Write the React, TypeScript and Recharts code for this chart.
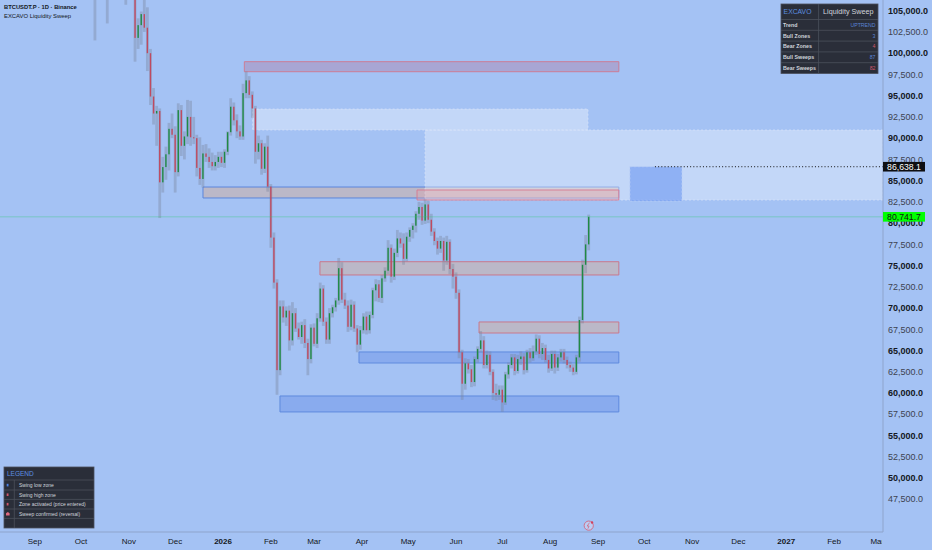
import React from 'react';
import { ComposedChart, Bar, XAxis, YAxis, ReferenceArea, ReferenceLine, ReferenceDot } from 'recharts';

const W = 932;
const H = 550;
const BG = '#a4c2f4';
const AXIS = '#8ea4cc';
const FONT = '"Liberation Sans", Arial, Helvetica, sans-serif';

// time axis: days counted from 2025-09-01, one candle = 2 days
const firstCandleDay = 39;
const candleStepDays = 2;
const firstOpen = 121500;

const closes = [
  112500, 115100, 113000, 108200, 107200, 110500, 108000, 111000, 114400, 112900,
  108300, 110100, 106500, 101800, 103300, 104600, 103000, 100000, 94900, 92900,
  93200, 84800, 86600, 88100, 91100, 90400, 86000, 93300, 89100, 90200,
  92500, 90100, 90000, 86500, 85200, 88200, 87800, 87200, 86700, 87200,
  87800, 87100, 88400, 90700, 93700, 92100, 90800, 90200, 95300, 96800,
  95100, 93500, 88400, 89400, 86400, 89000, 84300, 78300, 73000, 62700,
  70200, 68900, 69700, 66200, 69400, 67600, 66600, 68000, 65900, 64000,
  67700, 65800, 68800, 72300, 68400, 66300, 69400, 70100, 70900, 74700,
  71000, 70300, 67800, 70400, 67600, 65700, 67400, 69000, 67400, 69200,
  72100, 72800, 71200, 73500, 74400, 77100, 73700, 76500, 78200, 77600,
  75800, 78400, 79200, 79700, 81100, 81900, 80300, 82200, 80400, 79000,
  77900, 77000, 77900, 75600, 77800, 74600, 73700, 71800, 64800, 61100,
  63500, 62800, 61300, 64000, 65200, 66200, 63300, 64500, 62500, 60000,
  59800, 60400, 58900, 62200, 63300, 64200, 62600, 64000, 64300, 62700,
  64800, 64100, 64900, 66400, 64600, 65300, 63900, 62900, 64600, 63000,
  64200, 64800, 63900, 63300, 63000, 62500, 64200, 68600, 75100, 77500,
  80741.7,
];

const highs = [
  122500, 115800, 116000, 113600, 109000, 111700, 114000, 112000, 114600, 116400,
  113600, 111000, 111200, 107000, 104100, 104900, 106800, 105400, 100500, 95900,
  93800, 93500, 87800, 89000, 91800, 92900, 91400, 94100, 93900, 90800,
  94500, 94400, 92500, 90400, 90100, 89200, 89300, 88800, 88300, 88000,
  88400, 88400, 88700, 90800, 94700, 94200, 92800, 91500, 96400, 97850,
  97300, 95500, 93800, 90300, 89800, 89400, 90300, 84600, 78900, 73400,
  70900, 70900, 70200, 70300, 70700, 70000, 68300, 68400, 68700, 66400,
  68100, 68200, 69400, 73000, 72700, 68900, 70000, 70400, 71200, 75900,
  75400, 71800, 70900, 71000, 70800, 68000, 67900, 69400, 69600, 69600,
  72400, 73400, 73300, 73900, 74800, 78000, 77500, 77000, 79200, 78900,
  78800, 78900, 79500, 80000, 81400, 82500, 82400, 82800, 82600, 81100,
  79400, 78300, 78500, 78300, 78500, 78100, 75200, 74200, 72200, 65100,
  64100, 64000, 63300, 64300, 65500, 67300, 66700, 65000, 64900, 62800,
  61100, 60900, 60900, 62500, 63600, 64600, 64600, 64500, 64900, 64700,
  65100, 65300, 65600, 66900, 66800, 65900, 65700, 64500, 65000, 65000,
  64600, 65200, 65200, 64300, 63700, 63400, 64500, 69000, 75700, 78600,
  81000,
];

const lows = [
  101500, 109700, 110000, 107500, 103500, 106300, 106700, 107500, 110800, 112000,
  105700, 108000, 106400, 99000, 100500, 101000, 102500, 97900, 93900, 91600,
  89100, 80600, 83600, 85100, 86200, 90000, 83600, 85500, 87900, 87500,
  89300, 89100, 89300, 85500, 84500, 84200, 87200, 86500, 86200, 86200,
  86500, 86600, 86500, 88000, 90300, 91500, 90000, 89800, 89800, 94700,
  94700, 92400, 87000, 87500, 85700, 85900, 83700, 77100, 72300, 59800,
  62100, 68300, 67900, 65000, 65600, 67200, 66300, 65800, 65300, 62100,
  63500, 65500, 65300, 68400, 67900, 65800, 65800, 68900, 69600, 70400,
  70600, 69900, 67200, 67400, 67200, 64800, 65100, 67000, 66900, 67000,
  68800, 70800, 70700, 70600, 73100, 74000, 73000, 73300, 76000, 77100,
  75100, 75500, 77800, 78200, 78900, 80400, 79800, 79900, 80000, 78500,
  77400, 76300, 76500, 74400, 75100, 74000, 72300, 71100, 64100, 59200,
  60400, 62300, 60700, 60800, 63600, 64800, 62900, 62900, 62100, 59200,
  59100, 59200, 57800, 58600, 61700, 62900, 62100, 62300, 63300, 62200,
  62400, 63600, 63800, 64500, 64100, 63900, 63600, 62400, 62600, 62300,
  62600, 63700, 63500, 62900, 62500, 62100, 62200, 63700, 68200, 74100,
  76800,
];

const monthTickDays = [0, 30, 61, 91, 122, 153, 181, 212, 242, 273, 303, 334, 365, 395, 426, 456, 487, 518, 546];
const monthTickLabels = ['Sep', 'Oct', 'Nov', 'Dec', '2026', 'Feb', 'Mar', 'Apr', 'May', 'Jun', 'Jul', 'Aug', 'Sep', 'Oct', 'Nov', 'Dec', '2027', 'Feb', 'Mar'];
const yearLabels = ['2026', '2027'];

const priceTicks = [
  47500, 50000, 52500, 55000, 57500, 60000, 62500, 65000, 67500, 70000, 72500, 75000,
  77500, 80000, 82500, 85000, 87500, 90000, 92500, 95000, 97500, 100000, 102500, 105000,
];

// zones (from/to in days since 2025-09-01, prices)
const freshBearZones = [{ from: 135.8, to: 378.5, low: 97820, high: 99000 }];
const activatedBearZones = [
  { from: 184.8, to: 378.5, low: 73900, high: 75460 },
  { from: 287.9, to: 378.5, low: 67070, high: 68370 },
];
const activatedBullZones = [{ from: 109.0, to: 378.5, low: 82960, high: 84250 }];
const bullZones = [
  { from: 210.1, to: 378.5, low: 63540, high: 64840 },
  { from: 158.9, to: 378.5, low: 57780, high: 59660 },
];
const sweepBands = [
  { from: 141.2, to: 358.5, low: 90960, high: 93430 },
  { from: 252.9, to: 549.7, low: 82720, high: 90960 },
];
const sweptBearZones = [{ from: 247.7, to: 378.5, low: 82720, high: 83900 }];
const projectionBox = [{ from: 385.7, to: 419.4, low: 82600, high: 86638.1 }];
const targetLevel = { from: 401.9, to: 549.7, price: 86638.1, label: '86,638.1' };
const lastPriceLabel = '80,741.7';
const sweepMarkerPrice = 44400;

const tableLabels = ['Trend', 'Bull Zones', 'Bear Zones', 'Bull Sweeps', 'Bear Sweeps'];
const tableValues = ['UPTREND', '3', '4', '87', '82'];
const tableValueColors = ['#5b84d6', '#5b84d6', '#d0566b', '#5b84d6', '#d0566b'];
const legendLabels = ['Swing low zone', 'Swing high zone', 'Zone activated (price entered)', 'Sweep confirmed (reversal)'];

const rows = closes.map((c, i) => ({
  day: firstCandleDay + i * candleStepDays,
  open: i === 0 ? firstOpen : closes[i - 1],
  high: highs[i],
  low: lows[i],
  close: c,
  range: [lows[i], highs[i]],
}));
const lastDay = rows[rows.length - 1].day;
const lastClose = closes[closes.length - 1];
const PRICE_DOMAIN: [number, number] = [43652, 106259];

const Candle = (props: any) => {
  const { x, y, width, height, payload } = props;
  if (x == null || y == null || !payload) return null;
  const top = Math.min(y, y + height);
  const h = Math.abs(height);
  const span = payload.high - payload.low || 1;
  const k = h / span;
  const bodyTop = top + (payload.high - Math.max(payload.open, payload.close)) * k;
  const bodyH = Math.max(1, Math.abs(payload.open - payload.close) * k);
  const cx = x + width / 2;
  const up = payload.close >= payload.open;
  return (
    <g>
      <rect x={cx - 1.4} y={top} width={2.8} height={h} fill="rgba(120,132,156,0.38)" />
      <rect x={cx - 0.7} y={bodyTop} width={1.4} height={bodyH} fill={up ? '#1f8a45' : '#bf4a60'} />
    </g>
  );
};

const XTick = (props: any) => {
  const { x, payload, index } = props;
  const i = monthTickDays.indexOf(payload.value);
  const label = i >= 0 ? monthTickLabels[i] : '';
  const bold = yearLabels.includes(label);
  const id = `xclip${index}`;
  return (
    <g>
      <defs>
        <clipPath id={id}>
          <rect x={0} y={532} width={882} height={18} />
        </clipPath>
      </defs>
      <text
        x={x}
        y={541}
        dy="0.35em"
        textAnchor="middle"
        fontFamily={FONT}
        fontSize={8}
        fontWeight={bold ? 700 : 400}
        fill="#131722"
        clipPath={`url(#${id})`}
      >
        {label}
      </text>
    </g>
  );
};

const YTick = (props: any) => {
  const { y, payload } = props;
  const v = payload.value as number;
  const bold = v % 5000 === 0;
  const txt = v.toLocaleString('en-US', { minimumFractionDigits: 1, maximumFractionDigits: 1 });
  return (
    <text
      x={888}
      y={y}
      dy="0.35em"
      textAnchor="start"
      fontFamily={FONT}
      fontSize={9}
      fontWeight={bold ? 700 : 400}
      fill={bold ? '#131722' : '#3d4250'}
    >
      {txt}
    </text>
  );
};

// price tags drawn as ticks of an extra price axis so they sit above the axis labels
const TagTick = (props: any) => {
  const { y, payload } = props;
  const v = Number(payload.value);
  const isLast = Math.abs(v - lastClose) < 1;
  const text = isLast ? lastPriceLabel : targetLevel.label;
  const bg = isLast ? '#00ff00' : '#0e0f12';
  const color = isLast ? '#111111' : '#ffffff';
  return (
    <g>
      <rect x={883} y={y - 4.8} width={42} height={9.6} fill={bg} />
      <text x={904} y={y} dy="0.35em" textAnchor="middle" fontFamily={FONT} fontSize={8.7} fill={color}>
        {text}
      </text>
    </g>
  );
};

const SweepIcon = (props: any) => {
  const { cx, cy } = props;
  if (cx == null || cy == null) return null;
  return (
    <g>
      <circle cx={cx} cy={cy} r={4.6} fill="rgba(235,225,240,0.35)" stroke="#d3677f" strokeWidth={0.9} />
      <path d={`M ${cx + 0.8} ${cy - 3} L ${cx - 1.6} ${cy + 0.4} L ${cx + 0.3} ${cy + 0.4} L ${cx - 0.8} ${cy + 3}`} fill="none" stroke="#d3677f" strokeWidth={0.8} />
      <circle cx={cx + 3.3} cy={cy - 3.1} r={1.2} fill="#d3405c" />
    </g>
  );
};

const Overlay = () => {
  const tRowTop = [19.5, 30.3, 41.1, 51.9, 62.7];
  const lRowTop = [480, 490, 499.4, 509, 518.4];
  const grid = '#4b505c';
  return (
    <svg width={W} height={H} style={{ position: 'absolute', left: 0, top: 0, pointerEvents: 'none' }}>
      <text x={4} y={9.4} fontFamily={FONT} fontSize={5.8} fontWeight={700} fill="#131722">BTCUSDT.P · 1D · Binance</text>
      <text x={4} y={17.9} fontFamily={FONT} fontSize={5.9} fill="#131722">EXCAVO Liquidity Sweep</text>

      {/* info table */}
      <rect x={781} y={4} width={97} height={69.5} fill="#2a2e39" stroke={grid} strokeWidth={0.8} />
      <line x1={818.6} y1={4} x2={818.6} y2={73.5} stroke={grid} strokeWidth={0.8} />
      {tRowTop.map((t) => (
        <line key={t} x1={781} y1={t} x2={878} y2={t} stroke={grid} strokeWidth={0.8} />
      ))}
      <text x={783.6} y={14.2} fontFamily={FONT} fontSize={6.8} fill="#5d8fe0">EXCAVO</text>
      <text x={848.3} y={14.4} textAnchor="middle" fontFamily={FONT} fontSize={7.2} fill="#d1d4dc">Liquidity Sweep</text>
      {tableLabels.map((l, i) => (
        <g key={l}>
          <text x={783} y={tRowTop[i] + 7.2} fontFamily={FONT} fontSize={5.3} fontWeight={700} fill="#d1d4dc">{l}</text>
          <text x={875.5} y={tRowTop[i] + 7.2} textAnchor="end" fontFamily={FONT} fontSize={5.2} fill={tableValueColors[i]}>{tableValues[i]}</text>
        </g>
      ))}

      {/* legend */}
      <rect x={4} y={467} width={90} height={61} fill="#2a2e39" stroke={grid} strokeWidth={0.8} />
      {lRowTop.map((t) => (
        <line key={t} x1={4} y1={t} x2={94} y2={t} stroke={grid} strokeWidth={0.8} />
      ))}
      <line x1={14.3} y1={480} x2={14.3} y2={528} stroke={grid} strokeWidth={0.8} />
      <text x={7} y={476.3} fontFamily={FONT} fontSize={6.5} fill="#5d8fe0">LEGEND</text>
      {legendLabels.map((l, i) => (
        <text key={l} x={19} y={lRowTop[i] + 6.8} fontFamily={FONT} fontSize={5} fill="#d1d4dc">{l}</text>
      ))}
      <rect x={6.7} y={483.8} width={1.8} height={2.6} fill="#4d82e6" />
      <rect x={6.7} y={493.4} width={1.8} height={2.6} fill="#d0566b" />
      <rect x={6.7} y={502.9} width={1.8} height={2.6} fill="#d0566b" />
      <path d="M 6 515.6 L 6 513.3 L 7.8 511.9 L 9.6 513.3 L 9.6 515.6 Z" fill="#e06a80" />
    </svg>
  );
};

export default function App() {
  return (
    <div style={{ position: 'absolute', left: 0, top: 0, width: W, height: H, background: BG, overflow: 'hidden' }}>
      <ComposedChart width={W} height={H} data={rows} margin={{ top: 0, right: 0, bottom: 0, left: 0 }}>
        <XAxis
          dataKey="day"
          type="number"
          domain={[-22.55, 549.7]}
          ticks={monthTickDays}
          interval={0}
          allowDataOverflow
          height={18}
          tickLine={false}
          axisLine={{ stroke: AXIS }}
          tick={<XTick />}
        />
        <YAxis
          orientation="right"
          type="number"
          domain={PRICE_DOMAIN}
          ticks={priceTicks}
          interval={0}
          allowDataOverflow
          width={48}
          tickLine={false}
          axisLine={{ stroke: AXIS }}
          tick={<YTick />}
        />
        <YAxis
          yAxisId="tags"
          orientation="right"
          type="number"
          domain={PRICE_DOMAIN}
          ticks={[targetLevel.price, lastClose]}
          interval={0}
          allowDataOverflow
          width={1}
          tickLine={false}
          axisLine={false}
          tick={<TagTick />}
        />
        <ReferenceLine y={lastClose} stroke="rgba(40,200,110,0.35)" strokeWidth={1} ifOverflow="hidden" />
        <Bar dataKey="range" barSize={3} isAnimationActive={false} shape={(p: any) => <Candle {...p} />} />

        {activatedBullZones.map((z, i) => (
          <ReferenceArea key={`ab${i}`} x1={z.from} x2={z.to} y1={z.low} y2={z.high} fill="#d2ad9c" fillOpacity={0.5} stroke="#5b86dc" strokeWidth={1} ifOverflow="hidden" />
        ))}
        {freshBearZones.map((z, i) => (
          <ReferenceArea key={`fb${i}`} x1={z.from} x2={z.to} y1={z.low} y2={z.high} fill="#af6e96" fillOpacity={0.33} stroke="#cc7d96" strokeWidth={1} ifOverflow="hidden" />
        ))}
        {activatedBearZones.map((z, i) => (
          <ReferenceArea key={`ar${i}`} x1={z.from} x2={z.to} y1={z.low} y2={z.high} fill="#d2ad9c" fillOpacity={0.5} stroke="#c9788c" strokeWidth={1} ifOverflow="hidden" />
        ))}
        {bullZones.map((z, i) => (
          <ReferenceArea key={`bz${i}`} x1={z.from} x2={z.to} y1={z.low} y2={z.high} fill="#5a82e1" fillOpacity={0.35} stroke="#5f8ade" strokeWidth={1} ifOverflow="hidden" />
        ))}
        {sweepBands.map((z, i) => (
          <ReferenceArea key={`sb${i}`} x1={z.from} x2={z.to} y1={z.low} y2={z.high} fill="#ffffff" fillOpacity={0.34} stroke="#dce6fb" strokeOpacity={0.8} strokeDasharray="2 2" strokeWidth={0.8} ifOverflow="hidden" />
        ))}
        {sweptBearZones.map((z, i) => (
          <ReferenceArea key={`sw${i}`} x1={z.from} x2={z.to} y1={z.low} y2={z.high} fill="#e3a0aa" fillOpacity={0.35} stroke="#d8788e" strokeWidth={0.9} ifOverflow="hidden" />
        ))}
        {projectionBox.map((z, i) => (
          <ReferenceArea key={`pb${i}`} x1={z.from} x2={z.to} y1={z.low} y2={z.high} fill="#5082f0" fillOpacity={0.45} stroke="#b9cdf6" strokeDasharray="2 2" strokeWidth={0.8} ifOverflow="hidden" />
        ))}
        <ReferenceLine
          segment={[{ x: targetLevel.from, y: targetLevel.price }, { x: targetLevel.to, y: targetLevel.price }]}
          stroke="#111111"
          strokeWidth={1}
          strokeDasharray="1 2.2"
        />
        <ReferenceDot x={lastDay} y={sweepMarkerPrice} r={5} shape={(p: any) => <SweepIcon {...p} />} ifOverflow="visible" />
      </ComposedChart>
      <Overlay />
    </div>
  );
}
